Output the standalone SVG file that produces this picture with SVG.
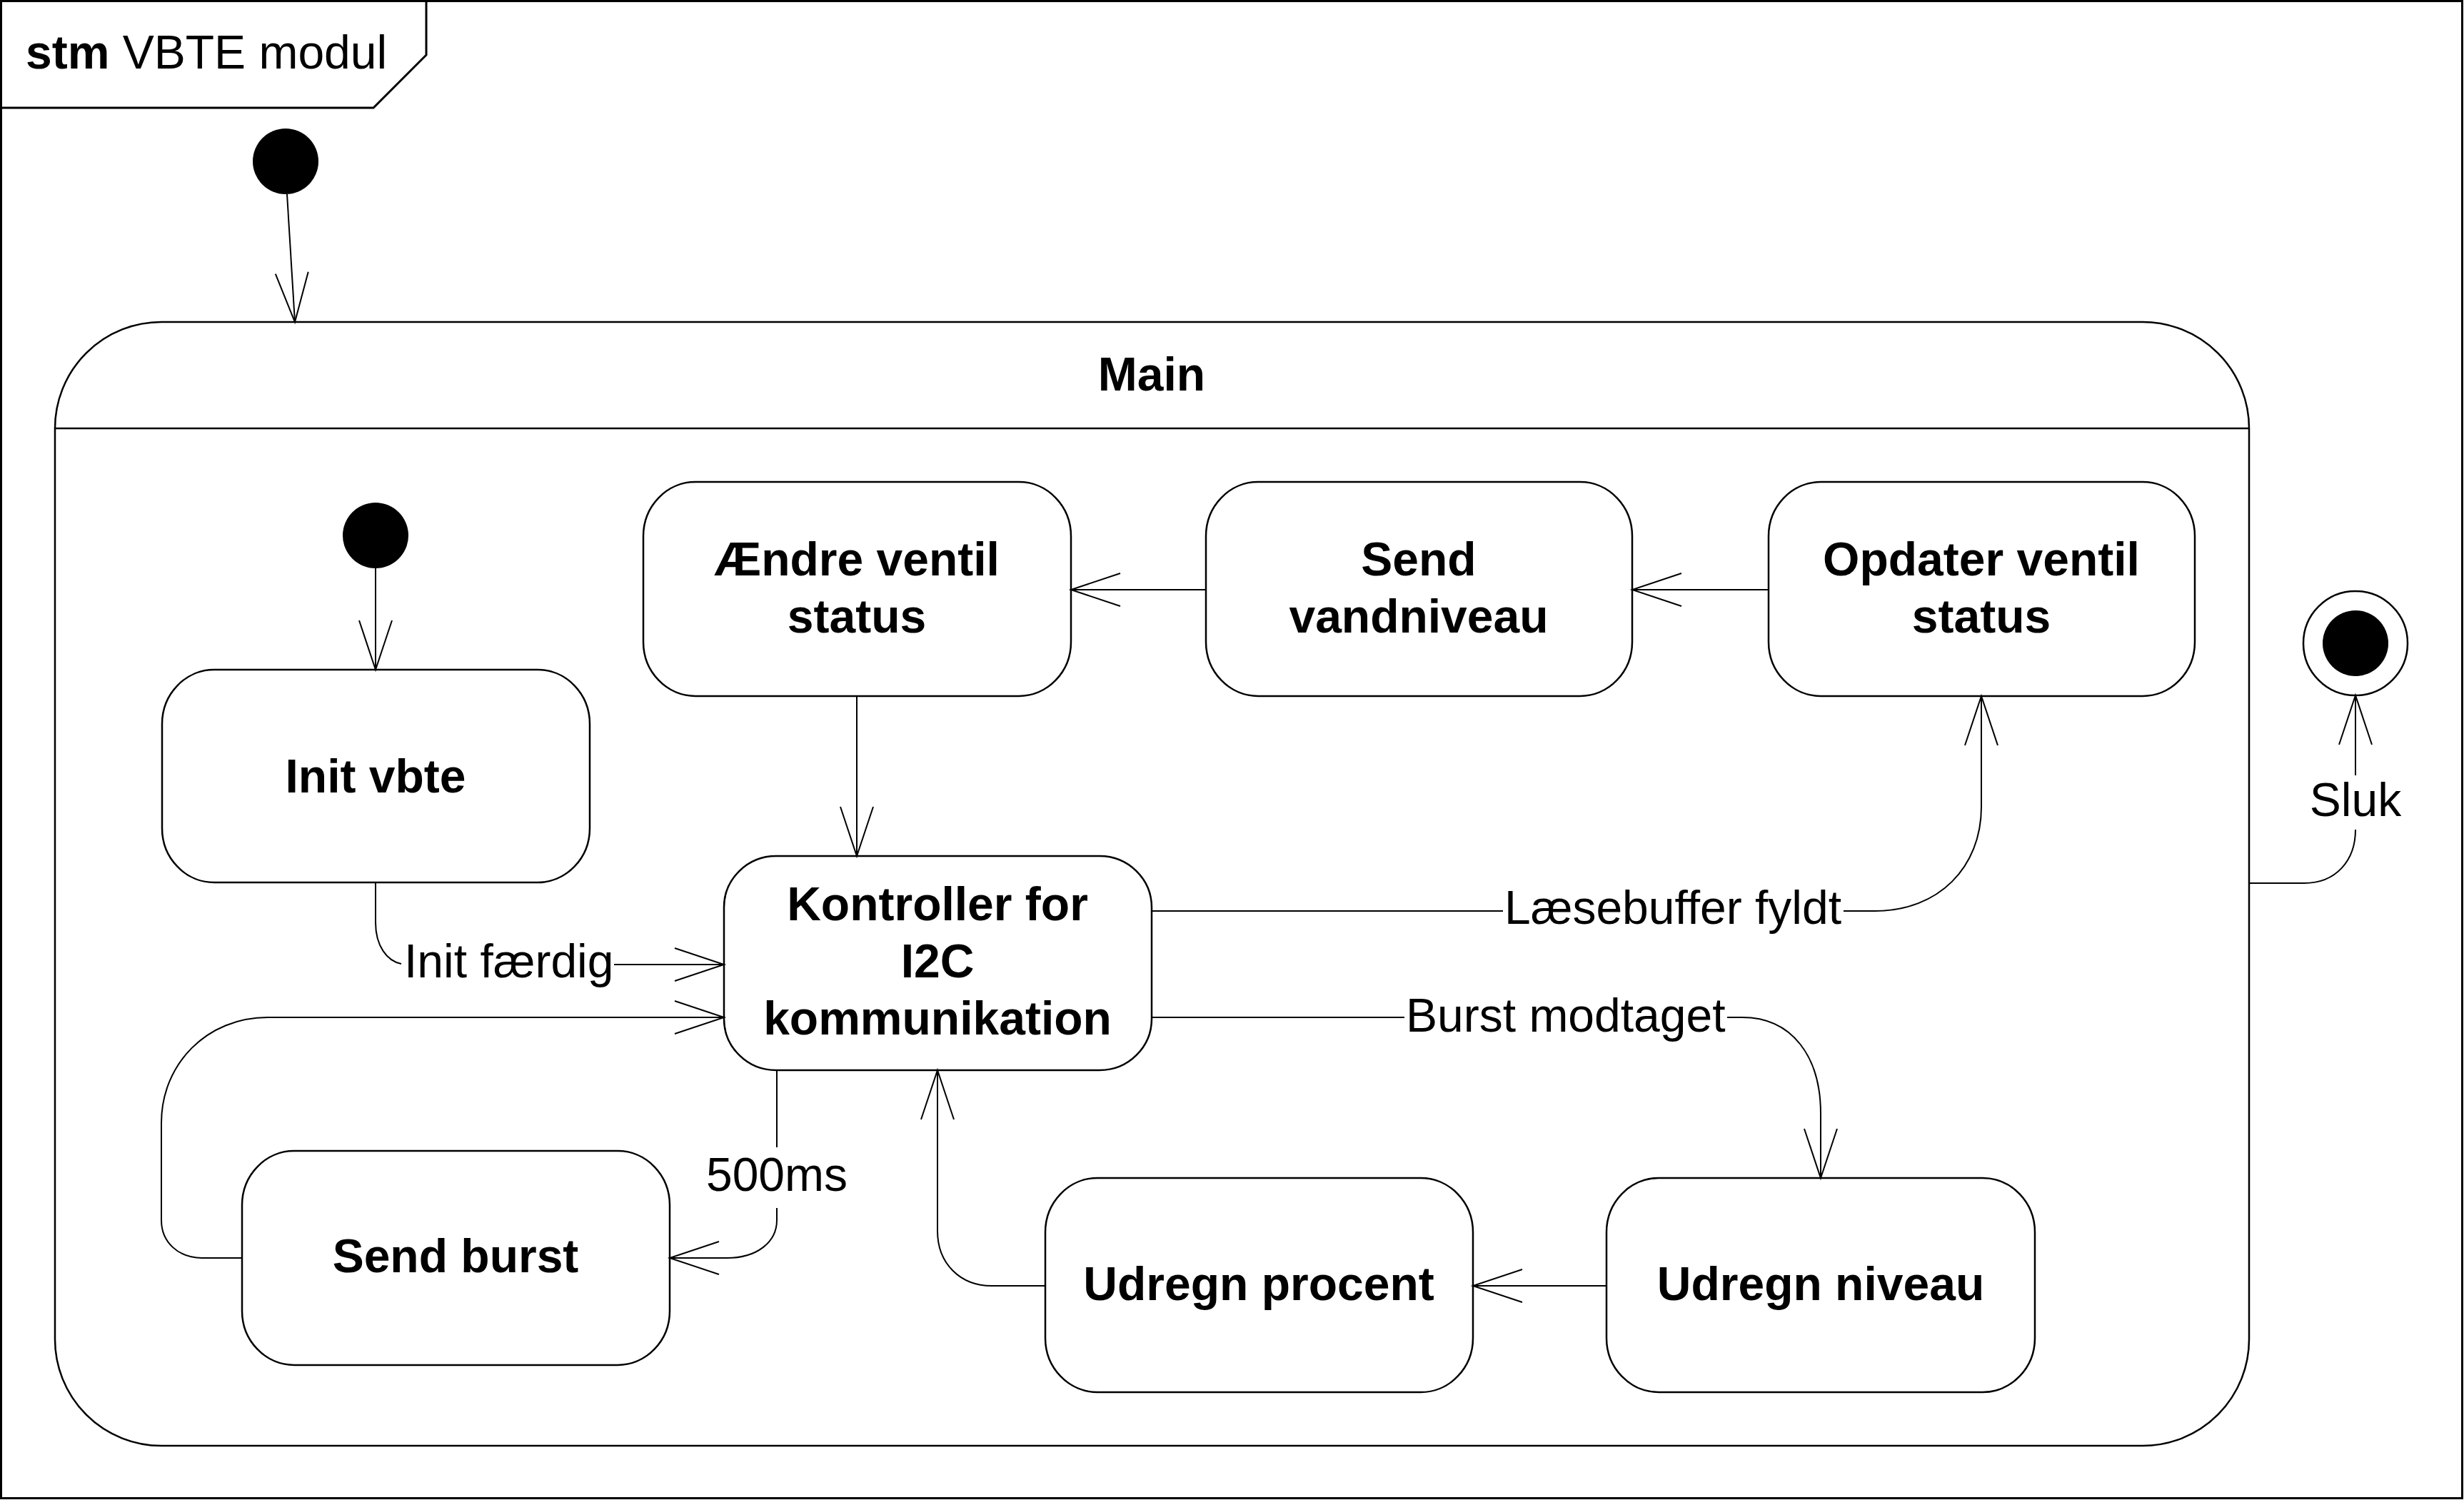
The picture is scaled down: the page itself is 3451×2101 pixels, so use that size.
<svg xmlns="http://www.w3.org/2000/svg" width="3451" height="2101" viewBox="0 0 3451 2101">
<style>
.frame{fill:none;stroke:#000;stroke-width:3}
.state{fill:#fff;stroke:#000;stroke-width:2.5}
.conn{fill:none;stroke:#000;stroke-width:2}
.t{font-family:"Liberation Sans",Arial,sans-serif;font-size:66px;fill:#000}
.b{font-weight:bold;text-anchor:middle}
.lbl{font-family:"Liberation Sans",Arial,sans-serif;font-size:66px;fill:#000}
</style>
<defs>
<marker id="open" markerUnits="userSpaceOnUse" markerWidth="80" markerHeight="60" viewBox="-75 -30 80 60" refX="0" refY="0" orient="auto" overflow="visible">
<path d="M-69,-23 L0,0 L-69,23" fill="none" stroke="#000" stroke-width="2"/>
</marker>
</defs>
<rect width="3451" height="2101" fill="#fff"/>
<g id="frame">
<rect class="frame" x="1.5" y="1.5" width="3447" height="2097"/>
<path class="frame" d="M597,1.5 V77 L523,151 H1.5" stroke-width="2.5"/>
<text class="t" x="36" y="96"><tspan font-weight="bold">stm</tspan> VBTE modul</text>
</g>
<g id="initial-top"><circle cx="400" cy="226" r="46" fill="#000"/></g>
<g id="main">
<rect class="state" x="77" y="451" width="3073" height="1574" rx="149" ry="149"/>
<line class="state" x1="77" y1="600" x2="3150" y2="600"/>
<text class="t b" x="1613" y="547">Main</text>
</g>
<g id="initial-inner"><circle cx="526" cy="750" r="46" fill="#000"/></g>
<g id="init-vbte">
<rect class="state" x="227" y="938" width="599" height="298" rx="73" ry="76"/>
<text class="t b" x="526" y="1110">Init vbte</text>
</g>
<g id="aendre">
<rect class="state" x="901" y="675" width="599" height="300" rx="73" ry="76"/>
<text class="t b" x="1200" y="806">Ændre ventil</text>
<text class="t b" x="1200" y="886">status</text>
</g>
<g id="send-vandniveau">
<rect class="state" x="1689" y="675" width="597" height="300" rx="73" ry="76"/>
<text class="t b" x="1987" y="806">Send</text>
<text class="t b" x="1987" y="886">vandniveau</text>
</g>
<g id="opdater">
<rect class="state" x="2477" y="675" width="597" height="300" rx="73" ry="76"/>
<text class="t b" x="2775" y="806">Opdater ventil</text>
<text class="t b" x="2775" y="886">status</text>
</g>
<g id="kontroller">
<rect class="state" x="1014" y="1199" width="599" height="300" rx="73" ry="72"/>
<text class="t b" x="1313" y="1289">Kontroller for</text>
<text class="t b" x="1313" y="1369">I2C</text>
<text class="t b" x="1313" y="1449">kommunikation</text>
</g>
<g id="send-burst">
<rect class="state" x="339" y="1612" width="599" height="300" rx="73" ry="76"/>
<text class="t b" x="638" y="1782">Send burst</text>
</g>
<g id="udregn-procent">
<rect class="state" x="1464" y="1650" width="599" height="300" rx="73" ry="76"/>
<text class="t b" x="1763" y="1821">Udregn procent</text>
</g>
<g id="udregn-niveau">
<rect class="state" x="2250" y="1650" width="600" height="300" rx="73" ry="76"/>
<text class="t b" x="2550" y="1821">Udregn niveau</text>
</g>
<g id="final">
<circle cx="3299" cy="901" r="73" fill="#fff" stroke="#000" stroke-width="2.5"/>
<circle cx="3299" cy="901" r="46" fill="#000"/>
</g>
<g id="connectors">
<path class="conn" d="M402,272 L413,451" marker-end="url(#open)"/>
<path class="conn" d="M526,796 V938" marker-end="url(#open)"/>
<path class="conn" d="M526,1236 V1292 C526,1325 542,1346 562,1350"/>
<path class="conn" d="M860,1351 H1014" marker-end="url(#open)"/>
<text class="lbl" x="566" y="1369">Init færdig</text>
<path class="conn" d="M339,1762 H283 C250,1762 226,1740 226,1709 V1573 C226,1490 290,1425 375,1425 H1014" marker-end="url(#open)"/>
<path class="conn" d="M1088,1499 V1607"/>
<path class="conn" d="M1088,1692 V1709 C1088,1740 1060,1762 1018,1762 H938" marker-end="url(#open)"/>
<text class="lbl" x="1088" y="1668" text-anchor="middle">500ms</text>
<path class="conn" d="M1200,975 V1199" marker-end="url(#open)"/>
<path class="conn" d="M1689,826 H1500" marker-end="url(#open)"/>
<path class="conn" d="M2477,826 H2286" marker-end="url(#open)"/>
<path class="conn" d="M1613,1276 H2105"/>
<path class="conn" d="M2582,1276 H2626 C2715,1276 2775,1215 2775,1130 V975" marker-end="url(#open)"/>
<text class="lbl" x="2107" y="1294">Læsebuffer fyldt</text>
<path class="conn" d="M1613,1425 H1967"/>
<path class="conn" d="M2419,1425 H2440 C2510,1425 2550,1480 2550,1560 V1650" marker-end="url(#open)"/>
<text class="lbl" x="1969" y="1445">Burst modtaget</text>
<path class="conn" d="M2250,1801 H2063" marker-end="url(#open)"/>
<path class="conn" d="M1464,1801 H1389 C1345,1801 1313,1770 1313,1724 V1499" marker-end="url(#open)"/>
<path class="conn" d="M3150,1237 H3227 C3272,1237 3299,1205 3299,1162"/>
<path class="conn" d="M3299,1086 V974" marker-end="url(#open)"/>
<text class="lbl" x="3299" y="1143" text-anchor="middle">Sluk</text>
</g>
</svg>
